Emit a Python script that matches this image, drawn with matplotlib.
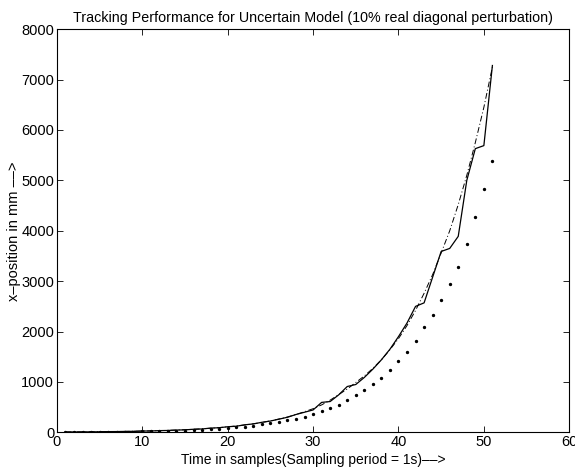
import numpy as np
import matplotlib
matplotlib.use("Agg")
import matplotlib.pyplot as plt

plt.rcParams['font.family'] = ['Liberation Sans', 'DejaVu Sans']

# time samples
samples = list(range(1, 52))

# reference trajectory (dash-dot)
reference = [8, 9, 10, 11, 13, 15, 17, 19, 22, 26,
             30, 34, 40, 46, 53, 61, 71, 82, 95, 110,
             127, 147, 170, 197, 228, 265, 305, 355, 410, 470,
             545, 640, 750, 860, 990, 1120, 1270, 1440, 1640, 1860,
             2120, 2420, 2760, 3130, 3560, 4000, 4520, 5100, 5750, 6450,
             7250]

# actual position (solid)
actual = [8, 9, 9, 11, 12, 15, 16, 19, 21, 27,
          28, 35, 38, 46, 50, 62, 68, 85, 92, 112,
          122, 150, 168, 200, 225, 262, 300, 355, 400, 445,
          595, 612, 745, 910, 950, 1090, 1255, 1440, 1650, 1900,
          2170, 2500, 2570, 3080, 3590, 3650, 3890, 5000, 5630, 5690,
          7280]

# estimate (dots)
estimate = [5, 6, 7, 8, 9, 11, 12, 14, 16, 18,
            21, 24, 28, 32, 37, 43, 50, 58, 70, 85,
            99, 111, 131, 159, 185, 210, 244, 270, 310, 363,
            423, 485, 552, 635, 740, 845, 952, 1083, 1242, 1415,
            1590, 1820, 2092, 2337, 2622, 2940, 3286, 3746, 4278, 4824,
            5386]

fig = plt.figure(figsize=(5.75, 4.71), dpi=100)
ax = fig.add_axes([0.099, 0.082, 0.891, 0.856])

ax.plot(samples, actual, color='k', lw=0.9, ls='-')
ax.plot(samples, reference, color='k', lw=0.7, ls='-.', dashes=(6, 2.5, 1, 2.5))
ax.plot(samples, estimate, color='k', ls='none', marker='.', markersize=2.8)

ax.set_xlim(0, 60)
ax.set_ylim(0, 8000)
ax.set_xticks(range(0, 61, 10))
ax.set_yticks(range(0, 8001, 1000))
ax.tick_params(direction='in', top=True, right=True, length=4, width=0.6,
               labelsize=10.5, pad=2)
for s in ax.spines.values():
    s.set_linewidth(0.8)

ax.set_title('Tracking Performance for Uncertain Model (10% real diagonal perturbation)',
             fontsize=10.3, pad=5)
ax.set_xlabel('Time in samples(Sampling period = 1s)\u2013\u2013>', fontsize=10, labelpad=2.5)
ax.set_ylabel('x\u2013position in mm \u2013\u2013>', fontsize=10.5, labelpad=0.5)

fig.savefig('out.png', dpi=100)
